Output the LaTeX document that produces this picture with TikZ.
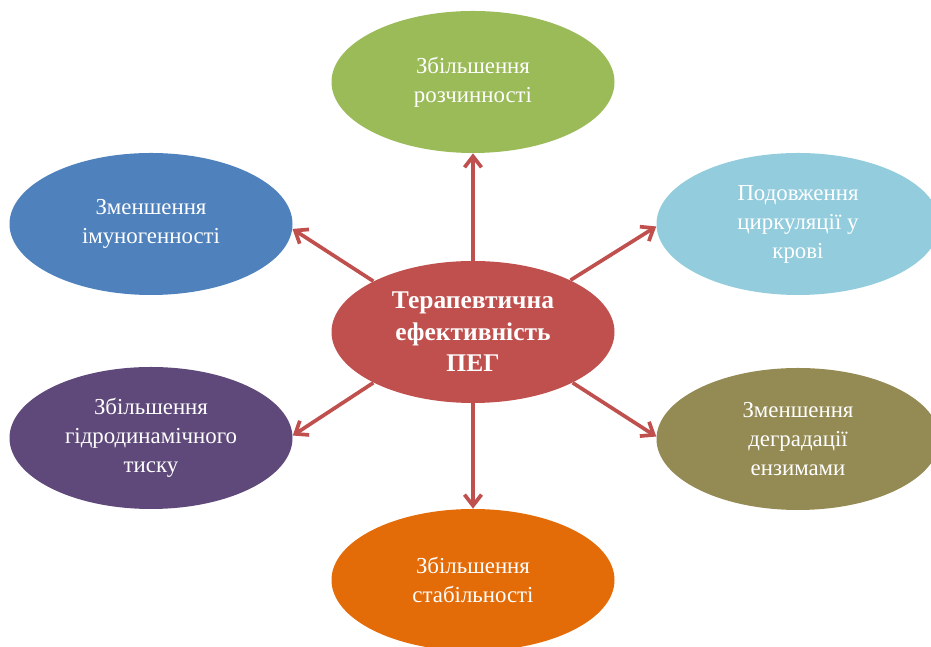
\documentclass[tikz,border=0pt]{standalone}
\usepackage{fontspec}
\setmainfont{Liberation Serif}
\usetikzlibrary{arrows.meta,shapes.geometric}

\definecolor{pegred}{HTML}{C0504D}
\definecolor{solgreen}{HTML}{9BBB59}
\definecolor{immblue}{HTML}{4F81BD}
\definecolor{circblue}{HTML}{93CDDD}
\definecolor{hydviolet}{HTML}{5F497A}
\definecolor{degolive}{HTML}{948A54}
\definecolor{staborange}{HTML}{E36C09}

\begin{document}
\begin{tikzpicture}[
  bubble/.style={ellipse,minimum width=5.66cm,minimum height=2.84cm,inner sep=0pt,
    align=center,text=white,font=\fontsize{13}{16.5}\selectfont},
  spoke/.style={draw=pegred,line width=2.1pt,-{Straight Barb[length=2.2mm,width=3.4mm]}}]
\useasboundingbox (0,0) rectangle (18.62,12.94);
\node[bubble,fill=pegred,font=\fontsize{14.5}{18}\selectfont\bfseries] (n0) at (9.46,6.30) {Терапевтична\\ефективність\\ПЕГ};
\node[bubble,fill=solgreen] (n1) at (9.46,11.30) {Збільшення\\розчинності};
\node[bubble,fill=immblue] (n2) at (3.02,8.46) {Зменшення\\імуногенності};
\node[bubble,fill=circblue] (n3) at (15.96,8.46) {Подовження\\циркуляції у\\крові};
\node[bubble,fill=hydviolet] (n4) at (3.02,4.18) {Збільшення\\гідродинамічного\\тиску};
\node[bubble,fill=degolive] (n5) at (15.96,4.16) {Зменшення\\деградації\\ензимами};
\node[bubble,fill=staborange] (n6) at (9.46,1.34) {Збільшення\\стабільності};
\draw[spoke] (n0.north) -- (n1.south);
\draw[spoke] (n0.153) -- (n2.-2);
\draw[spoke] (n0.28) -- (n3.181);
\draw[spoke] (n0.207) -- (n4.1);
\draw[spoke] (n0.333) -- (n5.179);
\draw[spoke] (n0.south) -- (n6.north);
\end{tikzpicture}
\end{document}
